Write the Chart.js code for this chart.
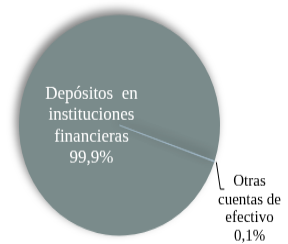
<!DOCTYPE html>
<html>
<head>
<meta charset="utf-8">
<script src="https://cdn.jsdelivr.net/npm/chart.js@4/dist/chart.umd.min.js"></script>
<style>
  html, body { margin: 0; padding: 0; background: #fff; }
  #wrap { width: 288px; height: 244px; overflow: hidden; position: relative; }
  #c { transform: scaleY(1.099); transform-origin: 0 0; display: block; }
</style>
</head>
<body>
<div id="wrap"><canvas id="c" width="288" height="222"></canvas></div>
<script>
const categories = ['Depósitos en instituciones financieras', 'Otras cuentas de efectivo'];
const values = [99.9, 0.1];
const labelLines = [
  ['Depósitos  en', 'instituciones', 'financieras'],
  ['Otras', 'cuentas de', 'efectivo']
];
const colors = ['#7a8b8b', '#a3bccd'];
const FONT = '"Liberation Serif"';

function pct(v) { return v.toFixed(1).replace('.', ',') + '%'; }

const shadowPlugin = {
  id: 'shadow',
  beforeDatasetsDraw(chart) {
    const ctx = chart.ctx;
    ctx.save();
    ctx.shadowColor = 'rgba(0,0,0,0.5)';
    ctx.shadowBlur = 8;
    ctx.shadowOffsetX = -3;
    ctx.shadowOffsetY = -4;
  },
  afterDatasetsDraw(chart) {
    chart.ctx.restore();
  }
};

const labelPlugin = {
  id: 'pieLabels',
  afterDraw(chart) {
    const ctx = chart.ctx;
    const meta = chart.getDatasetMeta(0);
    const big = meta.data[0];
    const small = meta.data[1];
    const cx = big.x, cy = big.y, R = big.outerRadius;
    ctx.save();
    ctx.textAlign = 'center';
    ctx.textBaseline = 'middle';
    ctx.fillStyle = '#ffffff';
    ctx.font = '17px ' + FONT;
    const inLines = labelLines[0].concat([pct(values[0])]);
    inLines.forEach((t, i) => ctx.fillText(t, cx - 28, cy - 28.5 + i * 19.5));
    const mid = (small.startAngle + small.endAngle) / 2;
    const ex = cx + Math.cos(mid) * (R + 2);
    const ey = cy + Math.sin(mid) * (R + 2);
    ctx.strokeStyle = '#000';
    ctx.lineWidth = 1;
    ctx.beginPath();
    ctx.moveTo(ex, ey);
    ctx.lineTo(ex + 4, ey + 24.5);
    ctx.lineTo(ex + 8, ey + 24.5);
    ctx.stroke();
    ctx.fillStyle = '#000';
    ctx.font = '15px ' + FONT;
    const outLines = labelLines[1].concat([pct(values[1])]);
    outLines.forEach((t, i) => ctx.fillText(t, cx + 130, cy + 51.5 + i * 16.4));
    ctx.restore();
  }
};

new Chart(document.getElementById('c'), {
  type: 'pie',
  data: {
    labels: categories,
    datasets: [{
      data: values,
      backgroundColor: colors,
      borderColor: colors,
      borderWidth: [0, 0.6]
    }]
  },
  options: {
    responsive: false,
    animation: false,
    devicePixelRatio: 1,
    rotation: 109.3,
    radius: 100.5,
    layout: { padding: { left: 0, right: 49, top: 6, bottom: 0 } },
    plugins: { legend: { display: false }, tooltip: { enabled: false } }
  },
  plugins: [shadowPlugin, labelPlugin]
});
</script>
</body>
</html>
